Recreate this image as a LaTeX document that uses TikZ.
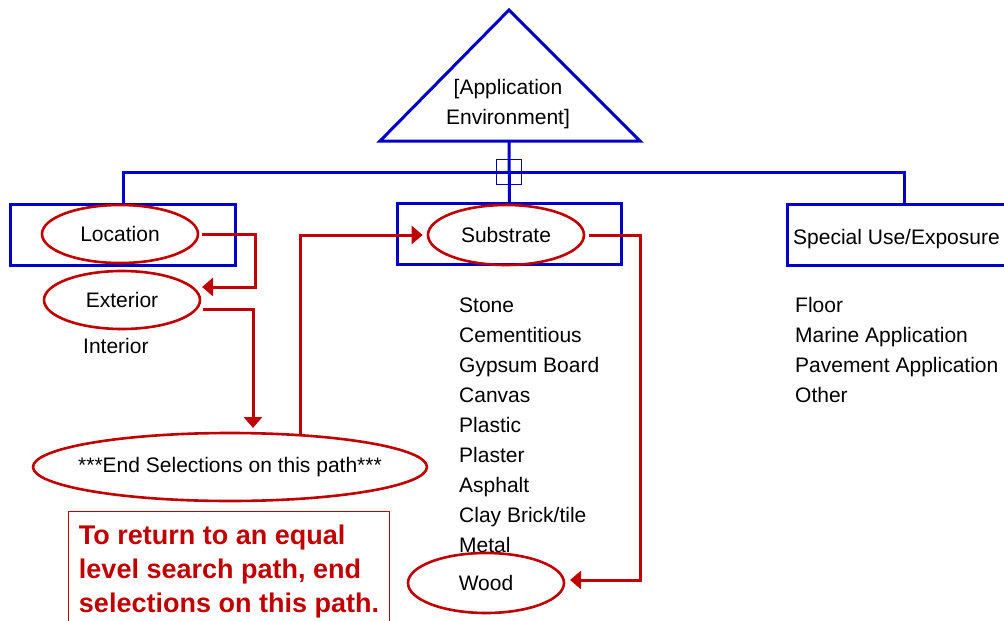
\documentclass[tikz,border=0pt]{standalone}
\usepackage{fontspec}
\setmainfont{Liberation Sans}
\usetikzlibrary{arrows.meta,shapes.geometric,calc}
\definecolor{dblue}{RGB}{0,0,200}
\definecolor{dred}{RGB}{192,0,0}
\begin{document}
\begin{tikzpicture}[x=1pt,y=-1pt,
  every node/.style={font=\fontsize{21}{30}\selectfont, text=black, inner sep=0pt},
  bbox/.style={draw=dblue, line width=3pt, minimum height=61pt},
  oval/.style={ellipse, draw=dred, line width=2.6pt, minimum width=156pt, minimum height=58pt},
  rline/.style={draw=dred, line width=3pt},
  rarrow/.style={rline, -{Triangle[length=11pt,width=18pt]}},
  item/.style={anchor=base west},
  bline/.style={draw=dblue, line width=3pt}]
\useasboundingbox (0,0) rectangle (1004,621);
\clip (0,0) rectangle (1004,621);

% top triangle
\coordinate (tl) at (380,141);
\coordinate (tt) at (509,10);
\coordinate (tr) at (640,141);
\coordinate (tribase) at (509,141);
\draw[bline, line join=miter] (tl) -- (tt) -- (tr) -- cycle;
\node[align=center] (app) at (508,104) {[Application\\Environment]};

% boxes
\node[bbox, minimum width=225pt] (locbox) at (123,234.5) {};
\node[bbox, minimum width=224pt] (subbox) at (509.5,234) {};
\node[bbox, minimum width=234pt] (specbox) at (904,235) {};
\node[item] (spec) at (793,244) {Special Use/Exposure};

% junction
\coordinate (jn) at (509,172);
\draw[bline] (tribase) -- (subbox.north);
\draw[bline] (locbox.north) |- (jn) -| (specbox.north);
\node[draw=dblue, line width=1.3pt, minimum size=25pt] (jbox) at (jn) {};

% ovals
\node[oval] (loc) at (120,234) {Location};
\node[oval] (ext) at (122,300) {Exterior};
\node[item] (int) at (83,353) {Interior};
\node[oval, minimum height=60pt] (sub) at (506,235) {Substrate};
\node[oval, minimum width=394pt, minimum height=68pt, inner xsep=-70pt] (endsel) at (230,467) {***End Selections on this path***};

% substrate list
\node[item] (st1) at (459,312) {Stone};
\node[item] (st2) at (459,342) {Cementitious};
\node[item] (st3) at (459,372) {Gypsum Board};
\node[item] (st4) at (459,402) {Canvas};
\node[item] (st5) at (459,432) {Plastic};
\node[item] (st6) at (459,462) {Plaster};
\node[item] (st7) at (459,492) {Asphalt};
\node[item] (st8) at (459,522) {Clay Brick/tile};
\node[item] (st9) at (459,552) {Metal};
\node[oval, minimum height=60pt] (wood) at (486,583) {Wood};

% special list
\node[item] (sp1) at (795,312) {Floor};
\node[item] (sp2) at (795,342) {Marine Application};
\node[item] (sp3) at (795,372) {Pavement Application};
\node[item] (sp4) at (795,402) {Other};

% note
\node[draw=dred, line width=1pt, anchor=north west, minimum width=321pt, minimum height=120pt,
      align=left, text=dred, font=\bfseries\fontsize{27}{34}\selectfont] (note) at (68,511)
  {To return to an equal\\level search path, end\\selections on this path.};

% connectors
\coordinate (a1) at (255,287);
\coordinate (a2) at (202,287);
\draw[rarrow] ([xshift=3pt]loc.east) -| (a1) -- (a2);

\coordinate (b1) at (253,428);
\draw[rarrow] ([xshift=2pt,yshift=-9pt]ext.east) -| (b1);

\coordinate (c0) at (300,435);
\draw[rarrow] (c0) |- ([xshift=-4pt]sub.west);

\coordinate (d1) at (640,580);
\coordinate (d2) at (570,580);
\draw[rarrow] ([xshift=4pt]sub.east) -| (d1) -- (d2);
\end{tikzpicture}
\end{document}
